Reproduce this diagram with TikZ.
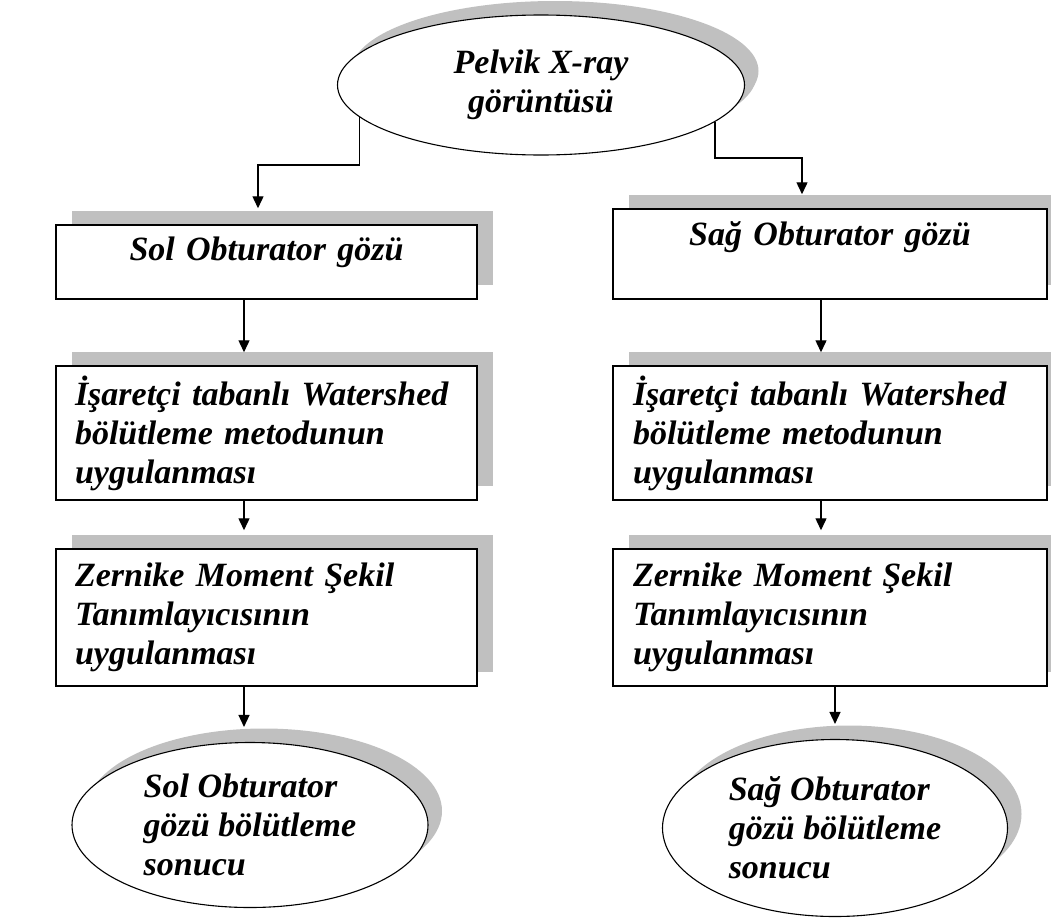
\documentclass[tikz,border=0pt]{standalone}
\usepackage{fontspec}
\setmainfont{Liberation Serif}
\usetikzlibrary{shapes.geometric,shadows,arrows.meta}

\definecolor{shade}{RGB}{192,192,192}
\newcommand{\lbl}{\fontsize{34}{39}\selectfont\bfseries\itshape}

\tikzset{
    stepbox/.style={draw, fill=white, line width=1.5pt, minimum width=421pt,
        text width=383pt, align=left, inner xsep=19pt, font=\lbl,
        general shadow={fill=shade, draw=none, shadow xshift=16pt, shadow yshift=14pt}},
    oval/.style={ellipse, draw, fill=white, line width=1.1pt, inner sep=0pt,
        align=left, font=\lbl,
        general shadow={fill=shade, draw=none, shadow xshift=14pt, shadow yshift=14pt}},
    flow/.style={-{Triangle[width=11pt,length=12pt]}, line width=1.4pt},
}

\begin{document}
\begin{tikzpicture}[x=1pt, y=-1pt]
    \useasboundingbox (0,0) rectangle (1051,918);

    % input image
    \node[oval, align=center, minimum width=407pt, minimum height=140pt,
        general shadow={fill=shade, draw=none, shadow xshift=12pt, shadow yshift=10pt}]
        (top) at (541,85) {Pelvik X-ray\\görüntüsü};

    % left column
    \node[stepbox, align=center, minimum height=74pt, text depth=27pt] (s1) at (266.5,262) {Sol Obturator gözü};
    \node[stepbox, minimum height=134pt] (s2) at (266.5,433)
        {İşaretçi tabanlı Watershed\\bölütleme metodunun\\uygulanması};
    \node[stepbox, minimum height=137pt] (s3) at (266.5,617.5)
        {Zernike Moment Şekil\\Tanımlayıcısının\\uygulanması};
    \node[oval, minimum width=356pt, minimum height=165pt] (se) at (250,825)
        {Sol Obturator\\gözü bölütleme\\sonucu};

    % right column
    \node[stepbox, align=center, minimum width=434pt, text width=394pt, inner xsep=20pt,
        minimum height=90pt, text depth=41pt] (r1) at (830,254) {Sağ Obturator gözü};
    \node[stepbox, minimum width=434pt, text width=394pt, inner xsep=20pt, minimum height=134pt] (r2) at (830,433)
        {İşaretçi tabanlı Watershed\\bölütleme metodunun\\uygulanması};
    \node[stepbox, minimum width=434pt, text width=394pt, inner xsep=20pt, minimum height=137pt] (r3) at (830,617.5)
        {Zernike Moment Şekil\\Tanımlayıcısının\\uygulanması};
    \node[oval, minimum width=345pt, minimum height=177pt] (re) at (835,828)
        {Sağ Obturator\\gözü bölütleme\\sonucu};

    % elbows and arrow columns
    \coordinate (lbend) at (258,165);
    \coordinate (rbend) at (802,158);
    \coordinate (lcol) at (244,0);
    \coordinate (rcol) at (821,0);

    \draw[flow, shorten >=16pt] (top.190) |- (lbend) -- (lbend |- s1.north);
    \draw[flow, shorten >=14pt] (top.-12) |- (rbend) -- (rbend |- r1.north);

    \draw[flow, shorten >=13pt] (s1.south -| lcol) -- (s2.north -| lcol);
    \draw[flow, shorten >=18pt] (s2.south -| lcol) -- (s3.north -| lcol);
    \draw[flow, shorten >=15pt] (s3.south -| lcol) -- (se.north -| lcol);

    \draw[flow, shorten >=13pt] (r1.south -| rcol) -- (r2.north -| rcol);
    \draw[flow, shorten >=18pt] (r2.south -| rcol) -- (r3.north -| rcol);
    \draw[flow, shorten >=15pt] (re.north |- r3.south) -- (re.north);
\end{tikzpicture}
\end{document}
